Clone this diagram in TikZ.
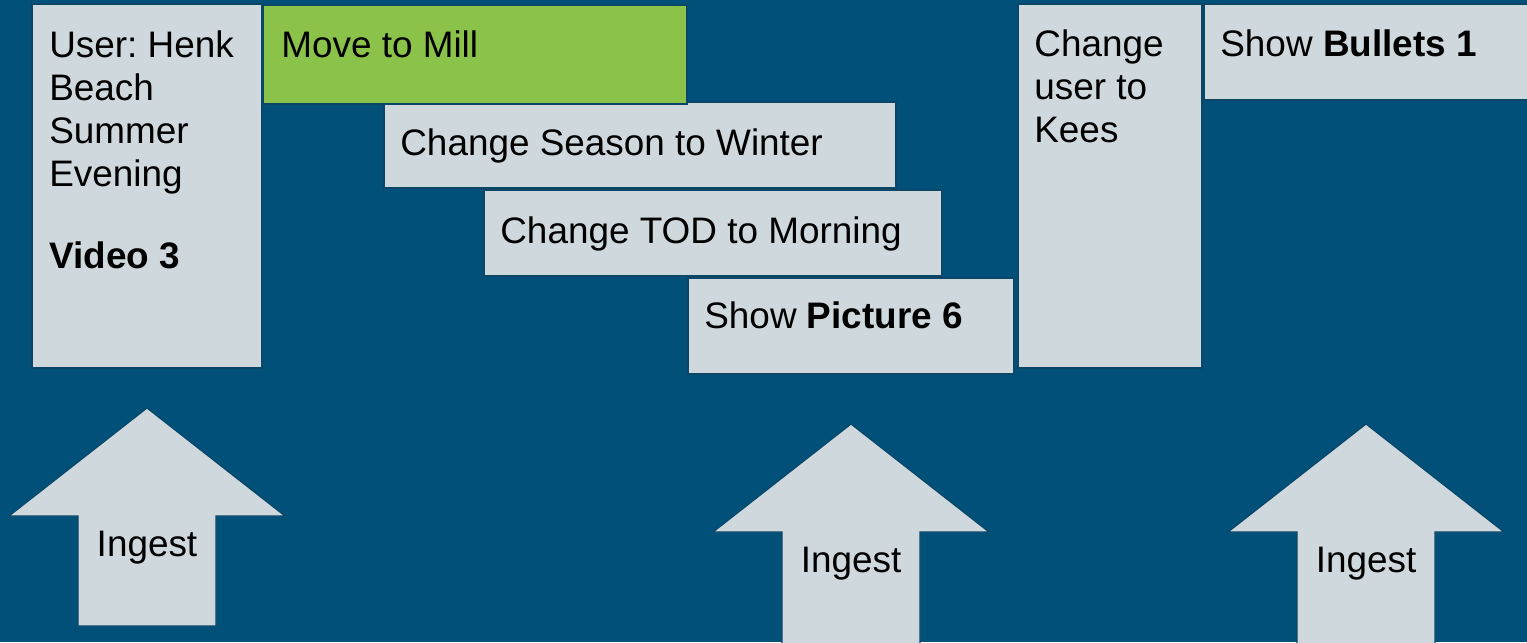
\documentclass[tikz,border=0pt]{standalone}
\usepackage{fontspec}
\setmainfont{Liberation Sans}
\usetikzlibrary{fit}
\frenchspacing
\definecolor{bgblue}{HTML}{00507A}
\definecolor{edgeblue}{HTML}{0A4668}
\definecolor{pale}{HTML}{CFD8DC}
\definecolor{leaf}{HTML}{8BC34A}
\tikzset{
  box/.style={draw=edgeblue,line width=0.7pt,fill=pale,inner sep=0pt},
  boxg/.style={box,fill=leaf},
  txt/.style={inner sep=0pt,align=left,text=black},
  ingest/.style={draw=edgeblue,line width=0.7pt,fill=pale},
}

\begin{document}
\begin{tikzpicture}[x=0.02cm, y=-0.02cm,
                    font=\fontsize{21}{24.6}\selectfont]
  \useasboundingbox[fill=bgblue] (0,0) rectangle (1527,642);
  \node[box, fit={(32,4) (262,368)}] (usr) {};
  \node[box, fit={(384,102) (896,188)}] (ssn) {};
  \node[box, fit={(484,190) (942,276)}] (tod) {};
  \node[boxg, fit={(263,5) (687,104)}] (mill) {};
  \node[box, fit={(688,278) (1014,374)}] (pic) {};
  \node[box, fit={(1018,4) (1202,368)}] (kees) {};
  \node[box, fit={(1204,4) (1540,100)}] (bul) {};
  \node[txt, anchor=north west] (usrt) at (49,30)
    {User: Henk\\Beach\\Summer\\Evening\\[22pt]\textbf{Video 3}};
  \node[txt, anchor=base west] (millt) at (281,58) {Move to Mill};
  \node[txt, anchor=base west] (ssnt) at (400,155) {Change Season to Winter};
  \node[txt, anchor=base west] (todt) at (500,243) {Change TOD to Morning};
  \node[txt, anchor=base west] (pict) at (704,328) {Show \textbf{Picture 6}};
  \node[txt, anchor=north west] (keest) at (1034,29)
    {Change\\user to\\Kees};
  \node[txt, anchor=base west] (bult) at (1220,57) {Show \textbf{Bullets 1}};
  \foreach \n/\c/\t/\b in {1/147/408/626, 2/851/424/660, 3/1366/424/660} {
    \draw[ingest] (\c,\t) -- ({\c+138},{\t+108}) -- ({\c+69},{\t+108})
      -- ({\c+69},\b) -- ({\c-69},\b) -- ({\c-69},{\t+108})
      -- ({\c-138},{\t+108}) -- cycle;
    \node[txt] (ing\n) at (\c,{\t+140}) {Ingest};
  }
\end{tikzpicture}
\end{document}
